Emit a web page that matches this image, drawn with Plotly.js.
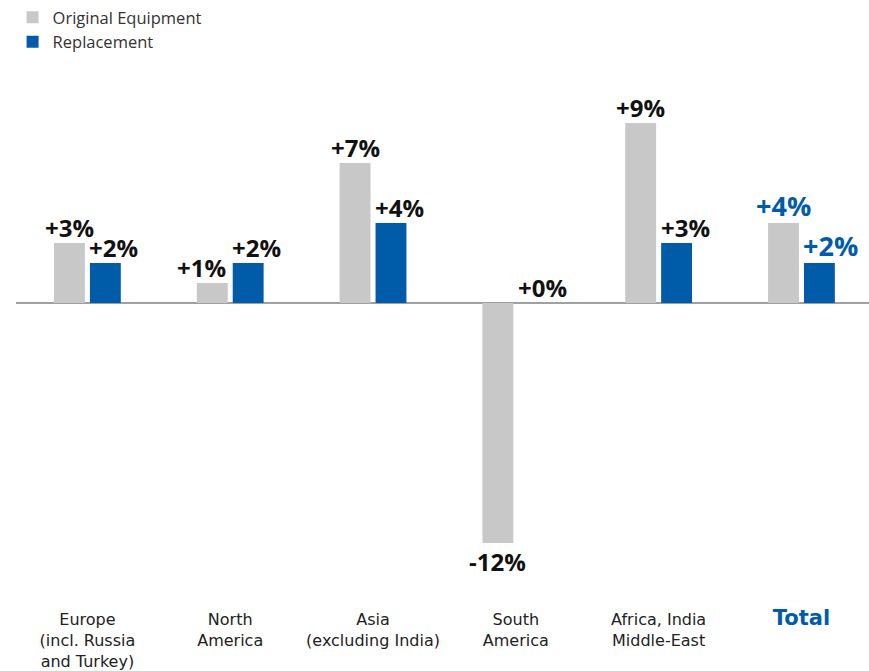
<!DOCTYPE html>
<html>
<head>
<meta charset="utf-8">
<script src="https://cdn.plot.ly/plotly-3.0.1.min.js"></script>
<style>html,body{margin:0;padding:0;background:#fff;}#chart{width:869px;height:671px;}</style>
</head>
<body>
<div id="chart"></div>
<script>
const categories = [
  "Europe<br>(incl. Russia<br>and Turkey)",
  "North<br>America",
  "Asia<br>(excluding India)",
  "South<br>America",
  "Africa, India<br>Middle-East",
  "<b><span style=\"color:#005ca9;font-size:21px\">Total</span></b>"
];
const originalEquipment = [3, 1, 7, -12, 9, 4];
const replacement = [2, 2, 4, 0, 3, 2];
const seriesNames = ["Original Equipment", "Replacement"];

const grey = "#c8c8c8", blue = "#005ca9";
function fmt(v) { return (v < 0 ? "-" : "+") + Math.abs(v) + "%"; }
const xIdx = categories.map((c, i) => i);
const lastIdx = categories.length - 1;

const traces = [
  {type: "bar", name: seriesNames[0], x: xIdx, y: originalEquipment,
   marker: {color: grey}, hoverinfo: "none"},
  {type: "bar", name: seriesNames[1], x: xIdx, y: replacement,
   marker: {color: blue}, hoverinfo: "none"}
];

// value labels placed at each bar's data value
const annotations = [];
xIdx.forEach(i => {
  const isTotal = i === lastIdx;
  const f = {family: "Open Sans, sans-serif", size: isTotal ? 27 : 24,
             color: isTotal ? blue : "#111", weight: 700};
  const gv = originalEquipment[i], bv = replacement[i];
  const greyRight = gv >= 0 && gv < bv;
  annotations.push({
    x: i, y: gv, xref: "x", yref: "y", text: "<b>" + fmt(gv) + "</b>",
    showarrow: false, font: f,
    xanchor: greyRight ? "right" : "center", xshift: greyRight ? -2 : -18,
    yanchor: gv < 0 ? "top" : "bottom", yshift: gv < 0 ? 0 : -3
  });
  annotations.push({
    x: i, y: bv, xref: "x", yref: "y", text: "<b>" + fmt(bv) + "</b>",
    showarrow: false, font: f,
    xanchor: "left", xshift: 0,
    yanchor: bv < 0 ? "top" : "bottom", yshift: bv < 0 ? 0 : -3
  });
});

const layout = {
  width: 869, height: 671,
  margin: {l: 16, r: 0, t: 103, b: 71},
  paper_bgcolor: "#fff", plot_bgcolor: "#fff",
  font: {family: "Open Sans, sans-serif", color: "#222"},
  barmode: "group", bargap: 0.497, bargroupgap: 0.14,
  showlegend: true,
  legend: {x: -0.004, y: 1.002, yref: "container", xanchor: "left", yanchor: "top",
           font: {size: 16.5, color: "#333"}, orientation: "v", bgcolor: "rgba(0,0,0,0)"},
  annotations: annotations,
  xaxis: {
    tickmode: "array", tickvals: xIdx, ticktext: categories,
    range: [-0.5, 5.473], showgrid: false, zeroline: false, showline: false,
    ticks: "", ticklabelstandoff: 8,
    tickfont: {family: "DejaVu Sans, sans-serif", size: 16, color: "#222"}, fixedrange: true
  },
  yaxis: {
    range: [-14.85, 10], showgrid: false, zeroline: true, zerolinecolor: "#a0a0a0",
    zerolinewidth: 2, showticklabels: false, ticks: "", showline: false, fixedrange: true
  }
};

Plotly.newPlot("chart", traces, layout, {displayModeBar: false, staticPlot: true});
</script>
</body>
</html>
